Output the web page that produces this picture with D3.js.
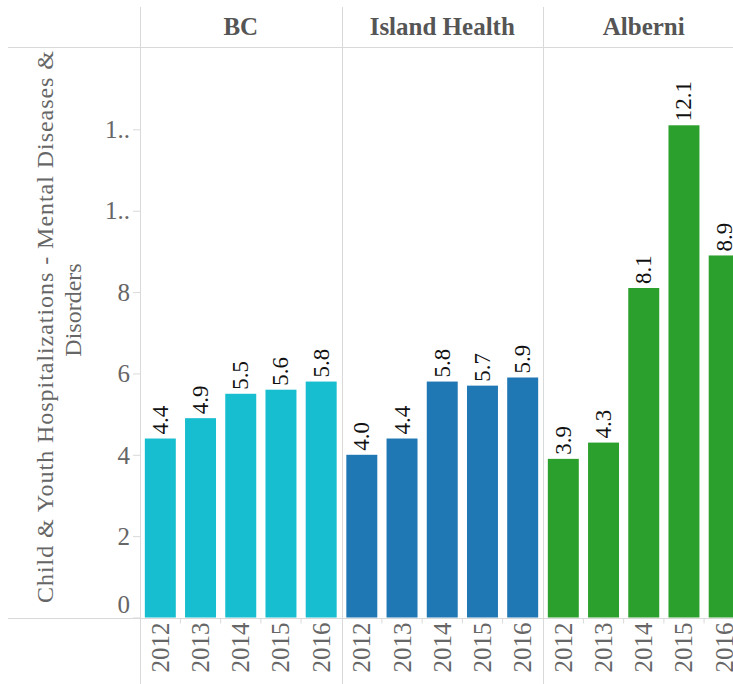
<!DOCTYPE html>
<html><head><meta charset="utf-8">
<script src="https://cdn.jsdelivr.net/npm/d3@7"></script>
</head><body style="margin:0;background:#fff"><svg id="c" width="733" height="684" style="display:block"></svg>
<script>
const regions = ["BC", "Island Health", "Alberni"];
const years = ["2012", "2013", "2014", "2015", "2016"];
const bcValues = [4.4, 4.9, 5.5, 5.6, 5.8];
const islandValues = [4.0, 4.4, 5.8, 5.7, 5.9];
const alberniValues = [3.9, 4.3, 8.1, 12.1, 8.9];
const yTicks = [0, 2, 4, 6, 8, 10, 12];
const yTickLabels = ["0", "2", "4", "6", "8", "1..", "1.."];
const colors = ["#17becf", "#1f77b4", "#2ca02c"];
const seriesValues = [bcValues, islandValues, alberniValues];

(function () {
const FONT = "Liberation Serif";
const svg = d3.select("#c");
const plotLeft = 140, plotTop = 48, base = 617.5;
const grid = "#d9d9d9";

const xPanel = d3.scaleBand().domain(regions).range([plotLeft, plotLeft + 3 * 201.5]);
const y = d3.scaleLinear().domain([0, 14]).range([base, plotTop]);

svg.append("line").attr("x1", 8).attr("x2", 733).attr("y1", 47.5).attr("y2", 47.5).attr("stroke", grid);
svg.append("line").attr("x1", 8).attr("x2", 733).attr("y1", 618.5).attr("y2", 618.5).attr("stroke", grid);
regions.forEach(r => {
  const x0 = Math.round(xPanel(r)) + 0.5;
  svg.append("line").attr("x1", x0).attr("x2", x0).attr("y1", 7).attr("y2", 684).attr("stroke", grid);
});

const yAxis = d3.axisLeft(y).tickValues(yTicks).tickSize(7).tickPadding(3)
  .tickFormat((d, i) => yTickLabels[i]);
const ya = svg.append("g").attr("transform", `translate(${plotLeft},0)`).call(yAxis);
ya.attr("font-family", FONT).attr("font-size", 25);
ya.select(".domain").remove();
ya.selectAll(".tick line").attr("stroke", grid);
ya.selectAll(".tick text").attr("fill", "#666").attr("font-family", FONT).attr("font-size", 25)
  .attr("dy", d => d === 0 ? "-0.22em" : "0.33em");

svg.append("text").attr("transform", "translate(53,327) rotate(-90)")
  .attr("text-anchor", "middle").attr("fill", "#666").attr("font-family", FONT).attr("font-size", 24)
  .attr("textLength", 552).attr("lengthAdjust", "spacing")
  .text("Child & Youth Hospitalizations - Mental Diseases &");
svg.append("text").attr("transform", "translate(81,310) rotate(-90)")
  .attr("text-anchor", "middle").attr("fill", "#666").attr("font-family", FONT).attr("font-size", 24)
  .text("Disorders");

regions.forEach((r, ri) => {
  const g = svg.append("g");
  const x = d3.scaleBand().domain(years).range([xPanel(r), xPanel(r) + xPanel.bandwidth()]).paddingInner(0.23).paddingOuter(0.12);
  g.append("text").attr("x", xPanel(r) + xPanel.bandwidth() / 2).attr("y", 35)
    .attr("text-anchor", "middle").attr("fill", "#555").attr("font-family", FONT).attr("font-size", 25).attr("font-weight", "bold").text(r);
  const vals = seriesValues[ri];
  g.selectAll("rect").data(years).join("rect")
    .attr("x", d => x(d)).attr("width", x.bandwidth())
    .attr("y", (d, i) => y(vals[i])).attr("height", (d, i) => base - y(vals[i]))
    .attr("fill", colors[ri]);
  g.selectAll(".lab").data(years).join("text").attr("class", "lab")
    .attr("transform", (d, i) => `translate(${x(d) + x.bandwidth() / 2 + 7.5},${y(vals[i]) - 4}) rotate(-90)`)
    .attr("fill", "#111").attr("font-family", FONT).attr("font-size", 23).text((d, i) => vals[i].toFixed(1));
  const xa = g.append("g").attr("transform", `translate(0,${base + 1})`)
    .call(d3.axisBottom(x).tickSize(0).tickPadding(0));
  xa.attr("font-family", FONT).attr("font-size", 25);
  xa.select(".domain").remove();
  xa.selectAll(".tick text").attr("transform", "rotate(-90)").attr("text-anchor", "end")
    .attr("x", -4).attr("y", 0).attr("dy", "0.34em").attr("fill", "#666")
    .attr("font-family", FONT).attr("font-size", 25);
  const step = x.step();
  g.selectAll(".sep").data(years.slice(1)).join("line").attr("class", "sep")
    .attr("x1", d => x(d) - (step - x.bandwidth()) / 2).attr("x2", d => x(d) - (step - x.bandwidth()) / 2)
    .attr("y1", base + 1).attr("y2", base + 6).attr("stroke", grid);
});
})();
</script></body></html>
